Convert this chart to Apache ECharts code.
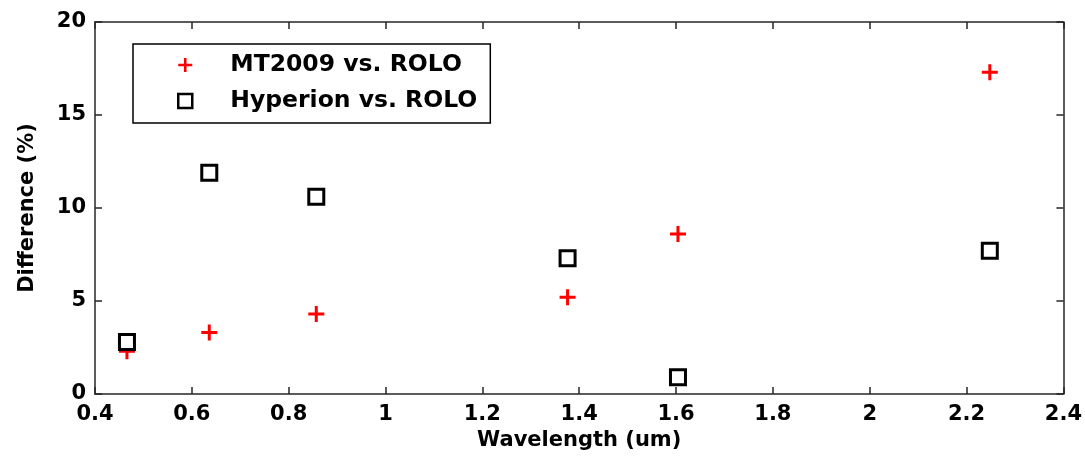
<!DOCTYPE html>
<html>
<head>
<meta charset="utf-8">
<script src="https://cdn.jsdelivr.net/npm/echarts@6/dist/echarts.min.js"></script>
<style>
  html, body { margin: 0; padding: 0; background: #fff; }
  #chart { width: 1085px; height: 461px; }
</style>
</head>
<body>
<div id="chart"></div>
<script>
// wavelengths (um)
const wavelengths = [0.466, 0.636, 0.857, 1.376, 1.604, 2.248];
const mt2009Diff = [2.3, 3.3, 4.3, 5.2, 8.6, 17.3];
const hyperionDiff = [2.8, 11.9, 10.6, 7.3, 0.9, 7.7];
const seriesNames = ['MT2009 vs. ROLO', 'Hyperion vs. ROLO'];

const FONT = '"DejaVu Sans", Verdana, sans-serif';
const AXIS_COLOR = '#262626';
const PLUS = 'path://M6.5,0H9.5V6.5H16V9.5H9.5V16H6.5V9.5H0V6.5H6.5Z';
const SQUARE = 'path://M0,0H16V16H0Z';

const toPoints = (ys) => wavelengths.map((x, i) => [x, ys[i]]);

const chart = echarts.init(document.getElementById('chart'), null, { renderer: 'canvas' });

const axisLine = { show: true, onZero: false, lineStyle: { color: AXIS_COLOR, width: 1.5 } };
const axisTick = { show: true, inside: true, length: 7, lineStyle: { color: AXIS_COLOR, width: 1.5 } };
const labelStyle = { color: '#000', fontFamily: FONT, fontWeight: 'bold', fontSize: 21 };

const option = {
  animation: false,
  grid: { left: 95, right: 19, top: 22, bottom: 67, containLabel: false },
  legend: {
    orient: 'vertical',
    left: 133,
    top: 44,
    data: [
      { name: seriesNames[0], icon: PLUS },
      { name: seriesNames[1], icon: SQUARE, itemStyle: { borderWidth: 2.5 } }
    ],
    itemWidth: 80,
    itemHeight: 14,
    itemGap: 12,
    padding: [9, 13, 10, 44],
    borderColor: '#000',
    borderWidth: 1.5,
    backgroundColor: '#fff',
    textStyle: { color: '#000', fontFamily: FONT, fontWeight: 'bold', fontSize: 23.5, lineHeight: 24 }
  },
  xAxis: [
    {
      type: 'value', min: 0.4, max: 2.4, interval: 0.2, position: 'bottom',
      name: 'Wavelength (um)', nameLocation: 'middle', nameGap: 36,
      nameTextStyle: labelStyle,
      axisLine, axisTick,
      axisLabel: Object.assign({ margin: 10, formatter: (v) => +v.toFixed(1) + '' }, labelStyle),
      splitLine: { show: false }
    },
    {
      type: 'value', min: 0.4, max: 2.4, interval: 0.2, position: 'top',
      axisLine, axisTick, axisLabel: { show: false }, splitLine: { show: false }
    }
  ],
  yAxis: [
    {
      type: 'value', min: 0, max: 20, interval: 5, position: 'left',
      name: 'Difference (%)', nameLocation: 'middle', nameGap: 57,
      nameTextStyle: labelStyle,
      axisLine, axisTick,
      axisLabel: Object.assign({ margin: 9 }, labelStyle),
      splitLine: { show: false }
    },
    {
      type: 'value', min: 0, max: 20, interval: 5, position: 'right',
      axisLine, axisTick, axisLabel: { show: false }, splitLine: { show: false }
    }
  ],
  series: [
    {
      name: seriesNames[0],
      type: 'scatter',
      symbol: PLUS,
      symbolSize: 16,
      symbolKeepAspect: true,
      itemStyle: { color: '#ff0000', opacity: 1 },
      data: toPoints(mt2009Diff),
      z: 2
    },
    {
      name: seriesNames[1],
      type: 'scatter',
      symbol: SQUARE,
      symbolSize: 15,
      symbolKeepAspect: true,
      itemStyle: { color: '#fff', opacity: 1, borderColor: '#000', borderWidth: 3 },
      data: toPoints(hyperionDiff),
      z: 3
    }
  ]
};

chart.setOption(option);
</script>
</body>
</html>
